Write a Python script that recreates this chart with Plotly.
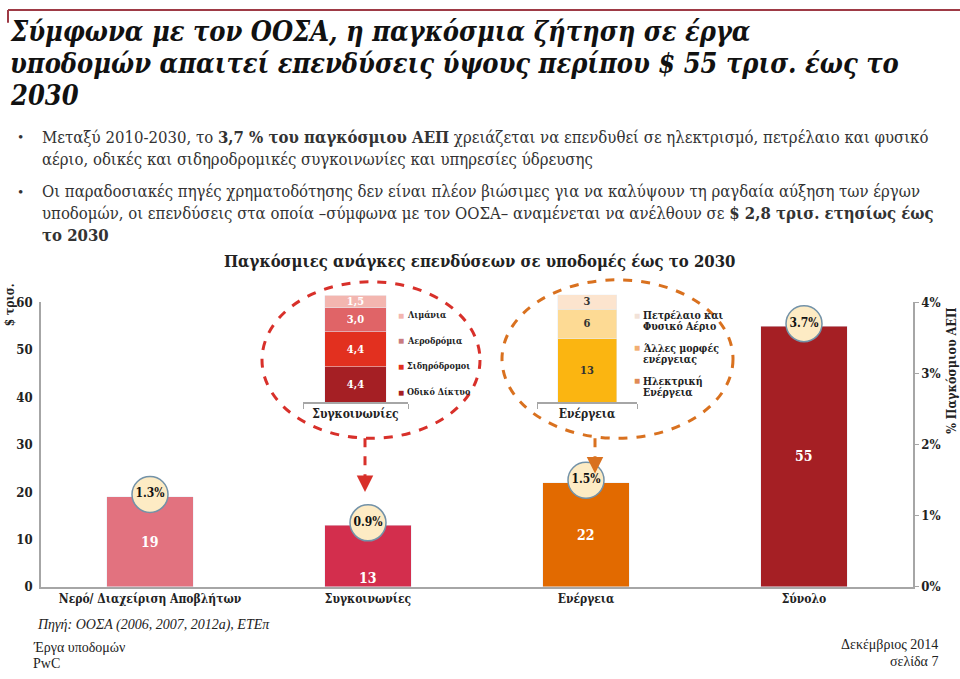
import plotly.graph_objects as go

# ---------------- data ----------------
categories = ["Νερό/ Διαχείριση Αποβλήτων", "Συγκοινωνίες", "Ενέργεια", "Σύνολο"]
investment_trn = [19, 13, 22, 55]
gdp_share_pct = [1.3, 0.9, 1.5, 3.7]
gdp_labels = ["1.3%", "0.9%", "1.5%", "3.7%"]
bar_colors = ["#E2727F", "#D32E4D", "#E26A00", "#A51F24"]

transport_parts = ["Οδικό Δίκτυο", "Σιδηρόδρομοι", "Αεροδρόμια", "Λιμάνια"]
transport_values = [4.4, 4.4, 3.0, 1.5]
transport_colors = ["#A51F24", "#E2301F", "#E06467", "#F3B6B0"]
transport_legend_colors = ["#A51F24", "#E2301F", "#C97B80", "#F3B6B0"]

energy_parts = ["Ηλεκτρική<br>Ενέργεια", "Άλλες μορφές<br>ενέργειας", "Πετρέλαιο και<br>Φυσικό Αέριο"]
energy_values = [13, 6, 3]
energy_colors = ["#FBB511", "#FDDA94", "#FCE4CE"]
energy_legend_colors = ["#E08A55", "#F2AE72", "#F2E2D8"]

left_ticks = [0, 10, 20, 30, 40, 50, 60]
right_ticks = [0, 1, 2, 3, 4]
right_tick_labels = ["0%", "1%", "2%", "3%", "4%"]

W, H = 960, 679
def xp(px):
    return px / W
def yp(py):
    return 1 - py / H

SERIF = "Liberation Serif"
COND = "DejaVu Serif Condensed, DejaVu Serif"
DARK = "#222222"
GREY = "#A6A6A6"

fig = go.Figure()

# main bars
fig.add_trace(go.Bar(
    x=categories, y=investment_trn, marker_color=bar_colors, width=0.395,
    xaxis="x", yaxis="y", showlegend=False, hoverinfo="x+y"))

# GDP share bubbles on secondary axis
fig.add_trace(go.Scatter(
    x=categories, y=gdp_share_pct, xaxis="x", yaxis="y2", mode="markers+text",
    text=gdp_labels, textposition="middle center",
    textfont=dict(family=COND, size=12, color="#111111", weight="bold"),
    marker=dict(size=36, color="#FDEBC4", line=dict(color="#7392A8", width=1.5)),
    cliponaxis=False, showlegend=False))

# transport inset
for name, val, col in zip(transport_parts, transport_values, transport_colors):
    fig.add_trace(go.Bar(
        x=["Συγκοινωνίες"], y=[val], name=name, marker_color=col, width=0.59,
        xaxis="x3", yaxis="y3", showlegend=False,
        texttemplate="%{y:.1f}", textposition="inside", insidetextanchor="middle",
        textangle=0, constraintext="none",
        textfont=dict(family=COND, size=11, color="white", weight="bold")))

# energy inset
for name, val, col in zip(energy_parts, energy_values, energy_colors):
    fig.add_trace(go.Bar(
        x=["Ενέργεια"], y=[val], name=name, marker_color=col, width=0.59,
        xaxis="x4", yaxis="y4", showlegend=False,
        texttemplate="%{y}", textposition="inside", insidetextanchor="middle",
        textangle=0, constraintext="none",
        textfont=dict(family=COND, size=11, color="#333333", weight="bold")))

tickfont = dict(family=COND, size=13, color=DARK, weight="bold")
cattickfont = dict(family=COND, size=12, color=DARK, weight="bold")

fig.update_layout(
    width=W, height=H, margin=dict(l=0, r=0, t=0, b=0),
    paper_bgcolor="white", plot_bgcolor="rgba(0,0,0,0)",
    barmode="stack", separators=",.", showlegend=False,
    font=dict(family=SERIF, color=DARK),
    xaxis=dict(domain=[xp(41), xp(913)], showline=True, linecolor=GREY, linewidth=1.5,
               ticks="", tickfont=cattickfont, showgrid=False, zeroline=False, fixedrange=True),
    yaxis=dict(domain=[yp(593), yp(302)], range=[0, 60], tickvals=left_ticks,
               showline=True, linecolor=GREY, linewidth=1.5, ticks="",
               tickfont=tickfont, showgrid=False, zeroline=False, ticklabelstandoff=4),
    yaxis2=dict(domain=[yp(593), yp(302)], overlaying="y", side="right", range=[0, 4],
                tickvals=right_ticks, ticktext=right_tick_labels, showline=True, linecolor=GREY,
                linewidth=1.5, ticks="outside", ticklen=4, tickcolor=GREY,
                tickfont=tickfont, showgrid=False, zeroline=False),
    xaxis3=dict(domain=[xp(303), xp(408)], anchor="y3", showline=True, linecolor=GREY,
                linewidth=1.5, ticks="outside", tickson="boundaries", ticklen=5, tickcolor=GREY,
                tickfont=cattickfont, showgrid=False),
    yaxis3=dict(domain=[yp(404), yp(295)], anchor="x3", range=[0, 13.3], visible=False),
    xaxis4=dict(domain=[xp(537), xp(637)], anchor="y4", showline=True, linecolor=GREY,
                linewidth=1.5, ticks="outside", tickson="boundaries", ticklen=5, tickcolor=GREY,
                tickfont=cattickfont, showgrid=False),
    yaxis4=dict(domain=[yp(404), yp(294)], anchor="x4", range=[0, 22], visible=False),
)

shapes = []
# top border
shapes.append(dict(type="line", xref="paper", yref="paper", x0=xp(8), x1=xp(960), y0=yp(3), y1=yp(3),
                   line=dict(color="#9E3A45", width=2)))
shapes.append(dict(type="line", xref="paper", yref="paper", x0=xp(8), x1=xp(8), y0=yp(3), y1=yp(16),
                   line=dict(color="#9E3A45", width=2)))
# dashed ellipses
shapes.append(dict(type="circle", xref="paper", yref="paper", x0=xp(262), x1=xp(480), y0=yp(441), y1=yp(281),
                   line=dict(color="#D8302A", width=3, dash="dash"), layer="above"))
shapes.append(dict(type="circle", xref="paper", yref="paper", x0=xp(502), x1=xp(733), y0=yp(441), y1=yp(279),
                   line=dict(color="#D9711F", width=3, dash="dash"), layer="above"))
# dashed connectors
shapes.append(dict(type="line", xref="paper", yref="paper", x0=xp(365), x1=xp(365), y0=yp(441), y1=yp(486),
                   line=dict(color="#D8302A", width=3, dash="dash")))
shapes.append(dict(type="line", xref="paper", yref="paper", x0=xp(595), x1=xp(595), y0=yp(441), y1=yp(466),
                   line=dict(color="#D9711F", width=3, dash="dash")))
fig.update_layout(shapes=shapes)

ann = []
def text(x, y, s, size=16, color=DARK, xanchor="left", yanchor="middle", family=SERIF, **kw):
    ann.append(dict(x=xp(x), y=yp(y), xref="paper", yref="paper", text=s, showarrow=False,
                    xanchor=xanchor, yanchor=yanchor,
                    font=dict(family=family, size=size, color=color), **kw))

# arrow heads
ann.append(dict(x=xp(365), y=yp(496), ax=0, ay=-14, xref="paper", yref="paper", text="",
                showarrow=True, arrowhead=2, arrowsize=1.1, arrowwidth=3, arrowcolor="#D8302A"))
ann.append(dict(x=xp(595), y=yp(477), ax=0, ay=-14, xref="paper", yref="paper", text="",
                showarrow=True, arrowhead=2, arrowsize=1.1, arrowwidth=3, arrowcolor="#D9711F"))

# title
title_lines = ["Σύμφωνα με τον ΟΟΣΑ, η παγκόσμια ζήτηση σε έργα",
               "υποδομών απαιτεί επενδύσεις ύψους περίπου $ 55 τρισ. έως το",
               "2030"]
for i, line in enumerate(title_lines):
    text(8, 25 + 33 * i, "<b><i>" + line + "</i></b>", size=27, color="#111111", family=COND)

# bullets
body = [
    (133, "Μεταξύ 2010-2030, το <b>3,7 % του παγκόσμιου ΑΕΠ</b> χρειάζεται να επενδυθεί σε ηλεκτρισμό, πετρέλαιο και φυσικό", True),
    (156, "αέριο, οδικές και σιδηροδρομικές συγκοινωνίες και υπηρεσίες ύδρευσης", False),
    (189, "Οι παραδοσιακές πηγές χρηματοδότησης δεν είναι πλέον βιώσιμες για να καλύψουν τη ραγδαία αύξηση των έργων", True),
    (211, "υποδομών, οι επενδύσεις στα οποία –σύμφωνα με τον ΟΟΣΑ– αναμένεται να ανέλθουν σε <b>$ 2,8 τρισ. ετησίως έως</b>", False),
    (233, "<b>το 2030</b>", False),
]
for y, s, bullet in body:
    if bullet:
        text(16, y, "•", size=15, color="#333333")
    text(40, y, s, size=16.6, color="#333333", family=COND)

# chart title
text(480, 260, "<b>Παγκόσμιες ανάγκες επενδύσεων σε υποδομές έως το 2030</b>", size=16.6, xanchor="center", family=COND)

# axis titles
ann.append(dict(x=xp(10), y=yp(305), xref="paper", yref="paper", text="<b>$ τρισ.</b>", showarrow=False,
                textangle=-90, xanchor="center", yanchor="middle",
                font=dict(family=COND, size=12, color=DARK)))
ann.append(dict(x=xp(952), y=yp(372), xref="paper", yref="paper", text="<b>% Παγκόσμιου ΑΕΠ</b>", showarrow=False,
                textangle=-90, xanchor="center", yanchor="middle",
                font=dict(family=COND, size=12.5, color=DARK)))

# bar value labels
label_y = [v / 2 for v in investment_trn]
label_y[1] = 1.9
for c, v, ly in zip(categories, investment_trn, label_y):
    ann.append(dict(x=c, y=ly, xref="x", yref="y", text="<b>%d</b>" % v, showarrow=False,
                    font=dict(family=COND, size=14, color="white")))

# inset legends
for i, (name, col) in enumerate(zip(transport_parts[::-1], transport_legend_colors[::-1])):
    y = 315 + i * 26.3
    text(396, y, "<span style='color:%s'>■</span>" % col, size=10)
    text(405, y, "<b>%s</b>" % name, size=9, family=COND)
for i, (name, col) in enumerate(zip(energy_parts[::-1], energy_legend_colors[::-1])):
    y0 = 315 + i * 33.5
    text(632, y0, "<span style='color:%s'>■</span>" % col, size=10)
    for j, part in enumerate(name.split("<br>")):
        text(641, y0 + j * 11.5, "<b>%s</b>" % part, size=10.5, family=COND)

# source / footer
text(35, 632, "<i>Πηγή: ΟΟΣΑ (2006, 2007, 2012a), ΕΤΕπ</i>", size=14, color="#222222")
text(31, 655, "Έργα υποδομών", size=14, color="#222222")
text(31, 671, "PwC", size=14, color="#222222")
text(940, 652, "Δεκέμβριος 2014", size=14, color="#222222", xanchor="right")
text(940, 669, "σελίδα 7", size=14, color="#222222", xanchor="right")

fig.update_layout(annotations=ann)
fig.write_html("out.html", config={"displayModeBar": False},
               post_script="document.body.style.margin='0';document.body.style.overflow='hidden';")
